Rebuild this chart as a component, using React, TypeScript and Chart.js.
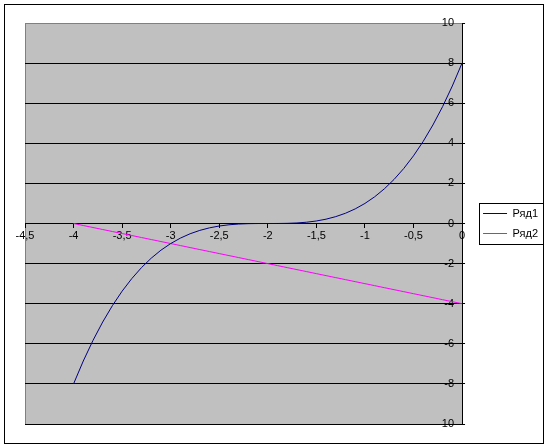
import React, { useEffect, useRef } from 'react';
import { Chart, registerables } from 'chart.js';
Chart.register(...registerables);

const seriesNames = ['Ряд1', 'Ряд2'];
const seriesColors = ['#000080', '#FF00FF'];

const xValues = [
  -4, -3.9, -3.8, -3.7, -3.6, -3.5, -3.4, -3.3, -3.2, -3.1,
  -3, -2.9, -2.8, -2.7, -2.6, -2.5, -2.4, -2.3, -2.2, -2.1,
  -2, -1.9, -1.8, -1.7, -1.6, -1.5, -1.4, -1.3, -1.2, -1.1,
  -1, -0.9, -0.8, -0.7, -0.6, -0.5, -0.4, -0.3, -0.2, -0.1, 0,
];

const series1 = [
  -8, -6.859, -5.832, -4.913, -4.096, -3.375, -2.744, -2.197, -1.728, -1.331,
  -1, -0.729, -0.512, -0.343, -0.216, -0.125, -0.064, -0.027, -0.008, -0.001,
  0, 0.001, 0.008, 0.027, 0.064, 0.125, 0.216, 0.343, 0.512, 0.729,
  1, 1.331, 1.728, 2.197, 2.744, 3.375, 4.096, 4.913, 5.832, 6.859, 8,
];

const series2 = [
  0, -0.1, -0.2, -0.3, -0.4, -0.5, -0.6, -0.7, -0.8, -0.9,
  -1, -1.1, -1.2, -1.3, -1.4, -1.5, -1.6, -1.7, -1.8, -1.9,
  -2, -2.1, -2.2, -2.3, -2.4, -2.5, -2.6, -2.7, -2.8, -2.9,
  -3, -3.1, -3.2, -3.3, -3.4, -3.5, -3.6, -3.7, -3.8, -3.9, -4,
];

const xTickLabels = ['-4,5', '-4', '-3,5', '-3', '-2,5', '-2', '-1,5', '-1', '-0,5', '0'];
const yTickLabels = ['-10', '-8', '-6', '-4', '-2', '0', '2', '4', '6', '8', '10'];

const FONT = "'Liberation Sans', Arial, sans-serif";

export default function App() {
  const ref = useRef<HTMLCanvasElement>(null);

  useEffect(() => {
    document.body.style.margin = '0';
    const canvas = ref.current;
    if (!canvas) return;

    const framePlugin = {
      id: 'framePlugin',
      beforeDraw(chart: any) {
        const { ctx, chartArea: a } = chart;
        ctx.save();
        ctx.fillStyle = '#FFFFFF';
        ctx.fillRect(0, 0, chart.width, chart.height);
        ctx.fillStyle = '#C0C0C0';
        ctx.fillRect(a.left, a.top, a.right - a.left, a.bottom - a.top);
        ctx.strokeStyle = '#808080';
        ctx.lineWidth = 1;
        ctx.beginPath();
        ctx.moveTo(a.left + 0.5, a.bottom);
        ctx.lineTo(a.left + 0.5, a.top + 0.5);
        ctx.lineTo(a.right, a.top + 0.5);
        ctx.stroke();
        ctx.strokeStyle = '#000000';
        ctx.strokeRect(4.5, 4.5, 539, 439);
        ctx.restore();
      },
      afterDraw(chart: any) {
        const hb = chart.legend && chart.legend.legendHitBoxes;
        if (!hb || !hb.length) return;
        const { ctx } = chart;
        let right = 0;
        hb.forEach((h: any) => { right = Math.max(right, h.left + h.width); });
        const left = hb[0].left - 4;
        const top = hb[0].top - 5;
        const last = hb[hb.length - 1];
        const bottom = last.top + last.height + 5;
        ctx.save();
        ctx.strokeStyle = '#000000';
        ctx.lineWidth = 1;
        ctx.strokeRect(Math.round(left) + 0.5, Math.round(top) + 0.5, Math.round(right + 5 - left), Math.round(bottom - top));
        ctx.restore();
      },
    };

    const chart = new Chart(canvas, {
      type: 'scatter',
      data: {
        datasets: [
          {
            label: seriesNames[0],
            data: xValues.map((x, i) => ({ x, y: series1[i] })),
            borderColor: seriesColors[0],
            backgroundColor: seriesColors[0],
            borderWidth: 1,
            showLine: true,
            pointRadius: 0,
            tension: 0,
          },
          {
            label: seriesNames[1],
            data: xValues.map((x, i) => ({ x, y: series2[i] })),
            borderColor: seriesColors[1],
            backgroundColor: seriesColors[1],
            borderWidth: 1,
            showLine: true,
            pointRadius: 0,
            tension: 0,
          },
        ],
      },
      options: {
        responsive: false,
        animation: false,
        devicePixelRatio: 1,
        layout: { padding: { left: 25, top: 23, bottom: 23, right: 0 } },
        font: { family: FONT, size: 11 },
        scales: {
          x: {
            type: 'linear',
            position: { y: 0 },
            min: -4.5,
            max: 0,
            afterFit(s: any) { s.paddingLeft = 0; s.paddingRight = 0; s.paddingTop = 0; s.paddingBottom = 0; },
            ticks: {
              stepSize: 0.5,
              color: '#000000',
              padding: 2,
              maxRotation: 0,
              autoSkip: false,
              font: { family: FONT, size: 11 },
              callback: (_v: any, i: number) => xTickLabels[i],
            },
            grid: { drawOnChartArea: false, drawTicks: true, tickLength: 4, color: '#000000', tickColor: '#000000' },
            border: { display: true, color: '#000000', width: 1 },
          },
          y: {
            type: 'linear',
            position: 'right',
            min: -10,
            max: 10,
            afterFit(s: any) { s.width = 12; s.paddingTop = 0; s.paddingBottom = 0; },
            ticks: {
              stepSize: 2,
              mirror: true,
              padding: -8,
              color: '#000000',
              autoSkip: false,
              font: { family: FONT, size: 11 },
              callback: (_v: any, i: number) => yTickLabels[i],
            },
            grid: {
              drawOnChartArea: true,
              drawTicks: true,
              tickLength: 3,
              color: (c: any) => (c.tick && c.tick.value === 10 ? '#808080' : '#000000'),
              tickColor: '#000000',
            },
            border: { display: true, color: '#000000', width: 1 },
          },
        },
        plugins: {
          legend: {
            display: true,
            position: 'right',
            labels: {
              usePointStyle: true,
              pointStyle: 'line',
              pointStyleWidth: 24,
              padding: 9,
              color: '#000000',
              font: { family: FONT, size: 11 },
            },
          },
          tooltip: { enabled: false },
        },
      } as any,
      plugins: [framePlugin],
    });

    return () => chart.destroy();
  }, []);

  return (
    <div style={{ width: 548, height: 447 }}>
      <canvas ref={ref} width={548} height={447} style={{ display: 'block', width: 548, height: 447 }} />
    </div>
  );
}
